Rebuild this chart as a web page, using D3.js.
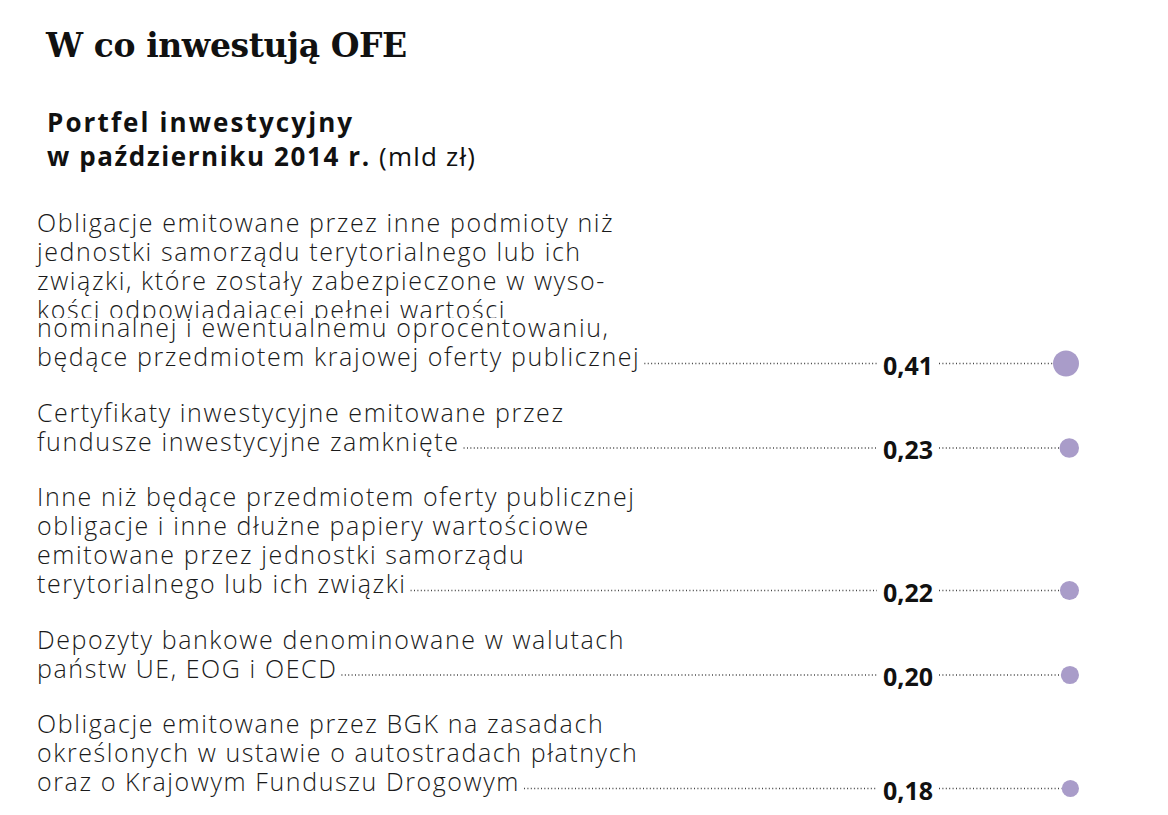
<!DOCTYPE html>
<html><head><meta charset="utf-8">
<script src="https://cdn.jsdelivr.net/npm/d3@7"></script>
<style>html,body{margin:0;padding:0;background:#fff;} svg{display:block;}</style>
</head><body>
<svg id="chart" width="1168" height="815"></svg>
<script>
const title = "W co inwestują OFE";
const subtitleBold = ["Portfel inwestycyjny", "w październiku 2014 r."];
const subtitleUnit = "(mld zł)";
const categories = [
  ["Obligacje emitowane przez inne podmioty niż",
   "jednostki samorządu terytorialnego lub ich",
   "związki, które zostały zabezpieczone w wyso-",
   "kości odpowiadającej pełnej wartości",
   "nominalnej i ewentualnemu oprocentowaniu,",
   "będące przedmiotem krajowej oferty publicznej"],
  ["Certyfikaty inwestycyjne emitowane przez",
   "fundusze inwestycyjne zamknięte"],
  ["Inne niż będące przedmiotem oferty publicznej",
   "obligacje i inne dłużne papiery wartościowe",
   "emitowane przez jednostki samorządu",
   "terytorialnego lub ich związki"],
  ["Depozyty bankowe denominowane w walutach",
   "państw UE, EOG i OECD"],
  ["Obligacje emitowane przez BGK na zasadach",
   "określonych w ustawie o autostradach płatnych",
   "oraz o Krajowym Funduszu Drogowym"]
];
const values = [0.41, 0.23, 0.22, 0.20, 0.18];
const valueLabels = ["0,41", "0,23", "0,22", "0,20", "0,18"];

const svg = d3.select("#chart");
const labelFont = "'Open Sans', sans-serif";
const lineH = 29;
const gap = 55.5;          // last baseline of one item to first baseline of the next
const firstBaseline = 232;
// in the original, the first label's 5th line is set over the bottom of its 4th line
const overlapAt = 4, overlapShift = -11;
const labelX = 37, valueRight = 933, dotRight = 1079;

svg.append("text").attr("x", 46).attr("y", 57)
  .attr("font-family", "'DejaVu Serif', serif").attr("font-weight", "bold")
  .attr("font-size", 33).attr("letter-spacing", -0.4).attr("fill", "#111").text(title);

svg.append("text").attr("x", 47).attr("y", 132)
  .attr("font-family", "'Open Sans',sans-serif").attr("font-weight", "bold")
  .attr("font-size", 26).attr("letter-spacing", 2.1).attr("fill", "#111").text(subtitleBold[0]);
const st2 = svg.append("text").attr("x", 47).attr("y", 166)
  .attr("font-family", "'Open Sans',sans-serif").attr("font-size", 26).attr("fill", "#111");
st2.append("tspan").attr("font-weight", "bold").attr("letter-spacing", 1.6).text(subtitleBold[1] + " ");
st2.append("tspan").attr("font-weight", "normal").attr("letter-spacing", 1.2).text(subtitleUnit);

const r = d3.scaleSqrt().domain([0, d3.max(values)]).range([0, 13]);

let y = firstBaseline;
categories.forEach((lines, i) => {
  const g = svg.append("g");
  let lastW = 0, lastY = y;
  lines.forEach((ln, j) => {
    let ly = y + j * lineH;
    if (i === 0 && j >= overlapAt) ly += overlapShift;
    if (i === 0 && j === overlapAt) {
      // white band hides the lower part of the previous line, as in the original
      g.append("rect").attr("x", labelX - 2).attr("y", ly - 19).attr("width", 600).attr("height", 26)
        .attr("fill", "#fff");
    }
    const t = g.append("text").attr("x", labelX).attr("y", ly)
      .attr("font-family", labelFont).attr("font-size", 25).attr("font-weight", 300)
      .attr("letter-spacing", 1.6).attr("fill", "#1a1a1a").text(ln);
    lastW = t.node().getComputedTextLength();
    lastY = ly;
  });
  const lineY = lastY - 2.5;
  const v = g.append("text").attr("x", valueRight).attr("y", lineY + 11)
    .attr("text-anchor", "end").attr("font-family", "'Open Sans',sans-serif")
    .attr("font-weight", "bold").attr("font-size", 25).attr("fill", "#111").text(valueLabels[i]);
  const vw = v.node().getComputedTextLength();
  const rr = r(values[i]);
  const dotX = dotRight - rr;
  g.append("line").attr("x1", labelX + lastW + 4).attr("x2", valueRight - vw - 6)
    .attr("y1", lineY).attr("y2", lineY).attr("stroke", "#444").attr("stroke-width", 1.3)
    .attr("stroke-dasharray", "1,2.4");
  g.append("line").attr("x1", valueRight + 6).attr("x2", dotX - rr)
    .attr("y1", lineY).attr("y2", lineY).attr("stroke", "#444").attr("stroke-width", 1.3)
    .attr("stroke-dasharray", "1,2.4");
  g.append("circle").attr("cx", dotX).attr("cy", lineY).attr("r", rr).attr("fill", "#a99cc9");
  y = lastY + gap;
});
</script>
</body></html>
